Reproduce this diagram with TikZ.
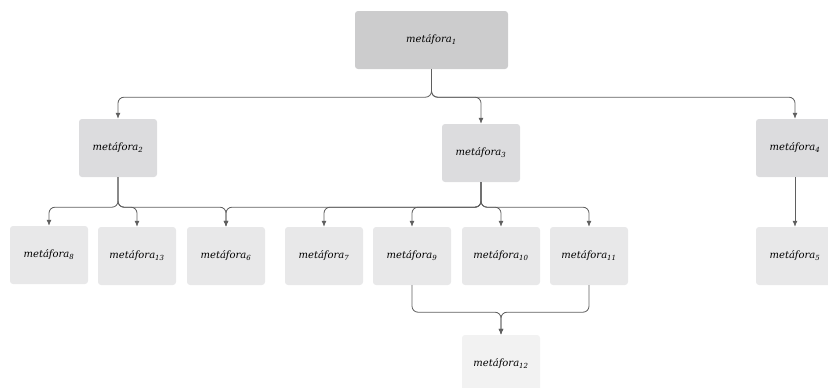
\documentclass[tikz,border=0pt]{standalone}
\usepackage{fontspec}
\newfontfamily\boxfont{DejaVu Serif}
\usetikzlibrary{arrows.meta}
\definecolor{fillroot}{RGB}{204,204,205}
\definecolor{fillmid}{RGB}{220,220,222}
\definecolor{filllow}{RGB}{232,232,233}
\definecolor{filllast}{RGB}{242,242,242}
\definecolor{linegray}{RGB}{95,95,95}
\tikzset{
    mynode/.style = {rectangle, rounded corners=3pt, draw=none, align=center, inner sep=0pt,
                     minimum width=78pt, minimum height=58pt, font=\boxfont\itshape\fontsize{10}{11}\selectfont},
    noderoot/.style = {mynode, fill=fillroot, minimum width=153pt},
    nodemid/.style = {mynode, fill=fillmid},
    nodelow/.style = {mynode, fill=filllow},
    nodelast/.style = {mynode, fill=filllast},
    edgen/.style = {-{Latex[length=6pt,width=5pt]}, line width=0.8pt, draw=linegray, rounded corners=6pt},
}
\newcommand{\met}[1]{met\'afora\textsubscript{#1}}

\begin{document}
\begin{tikzpicture}[x=1pt,y=-1pt]
  \useasboundingbox (0,0) rectangle (828,388);
  \clip (0,0) rectangle (828,388);

  % levels
  \node[noderoot] (m1) at (431.5,40) {\met{1}};
  \node[nodemid] (m2) at (118,148) {\met{2}};
  \node[nodemid] (m3) at (481,153) {\met{3}};
  \node[nodemid] (m4) at (795,148) {\met{4}};

  \node[nodelow] (m8)  at (49,255)  {\met{8}};
  \node[nodelow] (m13) at (137,256) {\met{13}};
  \node[nodelow] (m6)  at (226,256) {\met{6}};
  \node[nodelow] (m7)  at (324,256) {\met{7}};
  \node[nodelow] (m9)  at (412,256) {\met{9}};
  \node[nodelow] (m10) at (501,256) {\met{10}};
  \node[nodelow] (m11) at (589,256) {\met{11}};
  \node[nodelow] (m5)  at (795,256) {\met{5}};

  \node[nodelast] (m12) at (501,364) {\met{12}};

  % edges
  \draw[edgen] (m1.south) -- ++(0,28) -| (m2.north);
  \draw[edgen] (m1.south) -- ++(0,28) -| (m3.north);
  \draw[edgen] (m1.south) -- ++(0,28) -| (m4.north);

  \draw[edgen] (m2.south) -- ++(0,30) -| (m8.north);
  \draw[edgen] (m2.south) -- ++(0,30) -| (m13.north);
  \draw[edgen] (m2.south) -- ++(0,30) -| (m6.north);

  \draw[edgen] (m3.south) -- ++(0,25) -| (m6.north);
  \draw[edgen] (m3.south) -- ++(0,25) -| (m7.north);
  \draw[edgen] (m3.south) -- ++(0,25) -| (m9.north);
  \draw[edgen] (m3.south) -- ++(0,25) -| (m10.north);
  \draw[edgen] (m3.south) -- ++(0,25) -| (m11.north);

  \draw[edgen] (m4.south) -- (m5.north);

  \draw[edgen] (m9.south) -- ++(0,27) -| (m12.north);
  \draw[edgen] (m11.south) -- ++(0,27) -| (m12.north);
\end{tikzpicture}
\end{document}
